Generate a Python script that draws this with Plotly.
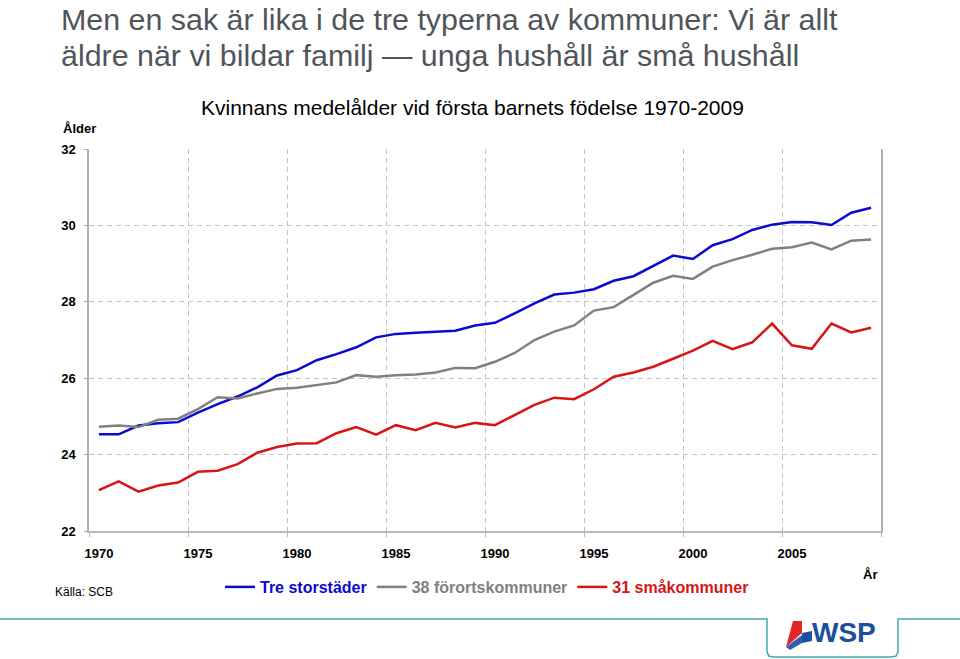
import plotly.graph_objects as go

years = list(range(1970, 2010))

tre_storstader = [24.53, 24.53, 24.76, 24.82, 24.85, 25.10, 25.32, 25.52, 25.76, 26.07,
                  26.21, 26.47, 26.63, 26.81, 27.07, 27.16, 27.19, 27.22, 27.24, 27.38,
                  27.45, 27.70, 27.96, 28.19, 28.24, 28.33, 28.55, 28.67, 28.95, 29.21,
                  29.12, 29.48, 29.64, 29.88, 30.02, 30.09, 30.08, 30.01, 30.33, 30.46]

forortskommuner = [24.73, 24.76, 24.72, 24.91, 24.94, 25.19, 25.50, 25.47, 25.60, 25.72,
                   25.75, 25.82, 25.89, 26.08, 26.04, 26.08, 26.10, 26.15, 26.27, 26.26,
                   26.43, 26.66, 27.00, 27.22, 27.38, 27.77, 27.86, 28.18, 28.50, 28.68,
                   28.60, 28.92, 29.09, 29.23, 29.39, 29.43, 29.55, 29.37, 29.60, 29.63]

smakommuner = [23.07, 23.30, 23.03, 23.19, 23.27, 23.55, 23.58, 23.75, 24.05, 24.20,
               24.29, 24.30, 24.56, 24.72, 24.52, 24.77, 24.64, 24.83, 24.71, 24.83,
               24.77, 25.04, 25.30, 25.49, 25.45, 25.71, 26.04, 26.15, 26.30, 26.51,
               26.72, 26.98, 26.76, 26.94, 27.43, 26.86, 26.77, 27.43, 27.20, 27.32]

series_names = ["Tre storstäder", "38 förortskommuner", "31 småkommuner"]
series_colors = ["#0a0ad0", "#808080", "#d81414"]
x_tick_labels = [1970, 1975, 1980, 1985, 1990, 1995, 2000, 2005]
y_ticks = [22, 24, 26, 28, 30, 32]

W, H = 960, 659
ML, MR, MT, MB = 89, 79, 149, 128
PW, PH = W - ML - MR, H - MT - MB


def px(x, y):
    """pixel -> paper coordinates"""
    return (x - ML) / PW, (H - MB - y) / PH


FONT = "Liberation Sans, Arial, sans-serif"
DASH = "5px,4px"

fig = go.Figure()
for name, color, vals in zip(series_names, series_colors,
                             [tre_storstader, forortskommuner, smakommuner]):
    fig.add_trace(go.Scatter(
        x=years, y=vals, mode="lines",
        name=f"<span style='color:{color}'><b>{name}</b></span>",
        line=dict(color=color, width=2.5),
    ))

fig.update_layout(
    width=W, height=H,
    margin=dict(l=ML, r=MR, t=MT, b=MB),
    paper_bgcolor="white", plot_bgcolor="white",
    font=dict(family=FONT, color="black"),
    showlegend=True,
    legend=dict(orientation="h", x=px(487, 0)[0], xanchor="center",
                y=px(0, 587)[1], yanchor="middle",
                font=dict(size=16, family=FONT),
                itemwidth=30, bgcolor="rgba(0,0,0,0)"),
    xaxis=dict(
        range=[1969.5, 2009.5],
        tickvals=x_tick_labels,
        ticktext=[f"<b>{v}</b>" for v in x_tick_labels],
        tickfont=dict(size=13, family=FONT),
        showgrid=False, ticks="", ticklabelstandoff=9,
        showline=True, linecolor="#b8b8b8", linewidth=2,
        zeroline=False,
        minor=dict(tick0=1969.5, dtick=5, showgrid=True, griddash=DASH,
                   gridcolor="#c4c4c4", gridwidth=1,
                   ticks="outside", ticklen=4, tickcolor="#b8b8b8"),
    ),
    yaxis=dict(
        range=[22, 32],
        tickvals=y_ticks,
        ticktext=[f"<b>{v}</b>" for v in y_ticks],
        tickfont=dict(size=13, family=FONT),
        showgrid=True, griddash=DASH, gridcolor="#c4c4c4", gridwidth=1,
        ticks="outside", ticklen=3, tickcolor="#a8a8a8",
        ticklabelstandoff=6,
        showline=True, linecolor="#b0b0b0", linewidth=1.5, mirror=True,
        zeroline=False,
    ),
)

annotations = []


def add_text(text, x, y, size, color="black", xanchor="left", yanchor="bottom", bold=False):
    xp, yp = px(x, y)
    if bold:
        text = f"<b>{text}</b>"
    annotations.append(dict(text=text, x=xp, y=yp, xref="paper", yref="paper",
                            xanchor=xanchor, yanchor=yanchor, showarrow=False,
                            font=dict(size=size, color=color, family=FONT)))


add_text("Men en sak är lika i de tre typerna av kommuner: Vi är allt", 59, 0, 30.4, "#50555a",
         yanchor="top")
add_text("äldre när vi bildar familj — unga hushåll är små hushåll", 59, 74, 30.4, "#50555a")
add_text("Kvinnans medelålder vid första barnets födelse 1970-2009", 472, 121, 21,
         xanchor="center")
add_text("Ålder", 61, 138, 13, bold=True)
add_text("År", 870, 584, 13, xanchor="center", bold=True)
add_text("Källa: SCB", 53, 601, 12)
add_text("WSP", 810, 650, 28, "#1e4f9c", bold=True)
fig.update_layout(annotations=annotations)


def path(points):
    s = ""
    for i, (x, y) in enumerate(points):
        xp, yp = px(x, y)
        s += ("M" if i == 0 else "L") + f"{xp:.5f},{yp:.5f} "
    return s + "Z"


def open_path(points):
    s = ""
    for i, (x, y) in enumerate(points):
        xp, yp = px(x, y)
        s += ("M" if i == 0 else "L") + f"{xp:.5f},{yp:.5f} "
    return s


shapes = [
    # teal footer line with tab
    dict(type="path", xref="paper", yref="paper",
         path=open_path([(0, 619), (767, 619), (767, 652), (769, 656), (773, 657),
                         (892, 657), (896, 656), (898, 652), (898, 619), (960, 619)]),
         line=dict(color="#3fadad", width=1.5)),
    # logo icon
    dict(type="path", xref="paper", yref="paper",
         path=path([(793, 621), (802, 621), (802, 633), (786, 647)]),
         fillcolor="#e0252b", line=dict(width=0)),
    dict(type="path", xref="paper", yref="paper",
         path=path([(802, 633), (812, 631), (812, 641), (802, 643)]),
         fillcolor="#1e4f9c", line=dict(width=0)),
    dict(type="path", xref="paper", yref="paper",
         path=path([(786, 647), (802, 635), (802, 643), (790, 650)]),
         fillcolor="#2f5fb0", line=dict(width=0)),
]
fig.update_layout(shapes=shapes)

fig.write_html("out.html", config={"displayModeBar": False},
               post_script="document.body.style.margin='0';")
